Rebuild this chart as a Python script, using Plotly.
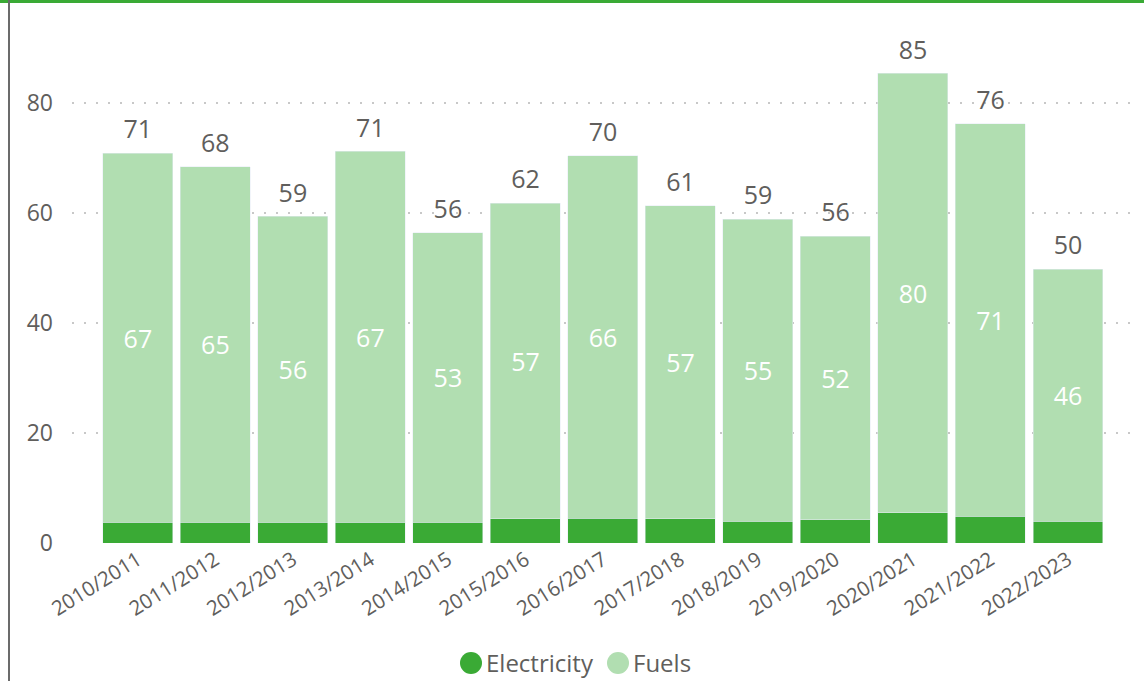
import plotly.graph_objects as go

years = ["2010/2011", "2011/2012", "2012/2013", "2013/2014", "2014/2015", "2015/2016",
         "2016/2017", "2017/2018", "2018/2019", "2019/2020", "2020/2021", "2021/2022", "2022/2023"]
electricity = [3.8, 3.8, 3.8, 3.8, 3.8, 4.4, 4.5, 4.4, 4.0, 4.2, 5.5, 4.9, 4.0]
fuels = [67.1, 64.6, 55.6, 67.4, 52.6, 57.4, 65.9, 56.9, 54.9, 51.6, 79.9, 71.3, 45.8]
totals = [e + f for e, f in zip(electricity, fuels)]
series_names = ["Electricity", "Fuels"]
y_ticks = [0, 20, 40, 60, 80]

C_ELEC = "#3aaa35"
C_FUEL = "#b1deb1"
TXT = "#605e5c"
FONT = "Open Sans"

fig = go.Figure()
fig.add_trace(go.Bar(x=years, y=electricity, name=series_names[0], marker_color=C_ELEC,
                     showlegend=False))
fig.add_trace(go.Bar(x=years, y=fuels, name=series_names[1], marker_color=C_FUEL,
                     text=[f"{round(v)}" for v in fuels], textposition="inside",
                     insidetextanchor="middle", textangle=0,
                     textfont=dict(color="white", size=25, family=FONT),
                     showlegend=False))
fig.add_trace(go.Scatter(x=years, y=totals, mode="text+markers",
                         marker=dict(size=12, opacity=0), cliponaxis=False,
                         text=[f"{round(v)}" for v in totals], textposition="top center",
                         textfont=dict(color=TXT, size=25, family=FONT),
                         showlegend=False, hoverinfo="skip"))

L, R, T, B = 72, 14, 48, 138
W, H = 1144, 681
pw = W - L - R
ph = H - T - B

def px_x(px):
    return (px - L) / pw

def px_y(py):
    return (H - B - py) / ph

# legend: (label, colour, circle centre x, text start x) in pixels
legend_items = [(series_names[0], C_ELEC, 471, 484), (series_names[1], C_FUEL, 618, 631)]
LEG_Y = 663
annotations = []
shapes = [
    dict(type="line", xref="paper", yref="paper", x0=px_x(0), x1=px_x(W),
         y0=px_y(1.5), y1=px_y(1.5), line=dict(color=C_ELEC, width=3)),
    dict(type="line", xref="paper", yref="paper", x0=px_x(9), x1=px_x(9),
         y0=px_y(0), y1=px_y(H), line=dict(color="#6b6b6b", width=2)),
]
for name, col, cx, tx in legend_items:
    shapes.append(dict(type="circle", xref="paper", yref="paper",
                       x0=px_x(cx - 11), x1=px_x(cx + 11),
                       y0=px_y(LEG_Y + 11), y1=px_y(LEG_Y - 11),
                       fillcolor=col, line=dict(width=0)))
    annotations.append(dict(
        xref="paper", yref="paper", x=px_x(tx), y=px_y(LEG_Y - 1), xanchor="left",
        yanchor="middle", showarrow=False, text=name,
        font=dict(size=24, color=TXT, family=FONT)))

fig.update_layout(
    width=W, height=H,
    margin=dict(l=L, r=R, t=T, b=B, autoexpand=False),
    barmode="stack", bargap=0.097,
    plot_bgcolor="white", paper_bgcolor="white",
    font=dict(family=FONT, color=TXT),
    showlegend=False,
    xaxis=dict(type="category", range=[-0.85, 12.8], tickangle=-32, showgrid=False,
               showline=False, ticks="", automargin=False,
               tickfont=dict(size=20.5, color=TXT)),
    yaxis=dict(range=[0, 90], tickvals=y_ticks, showgrid=True,
               gridcolor="#c8c8c8", gridwidth=2, griddash="2px,10px",
               zeroline=False, showline=False, ticks="", ticklabelstandoff=18,
               automargin=False, tickfont=dict(size=23, color=TXT)),
    annotations=annotations,
    shapes=shapes,
)

fig.write_html("out.html")
